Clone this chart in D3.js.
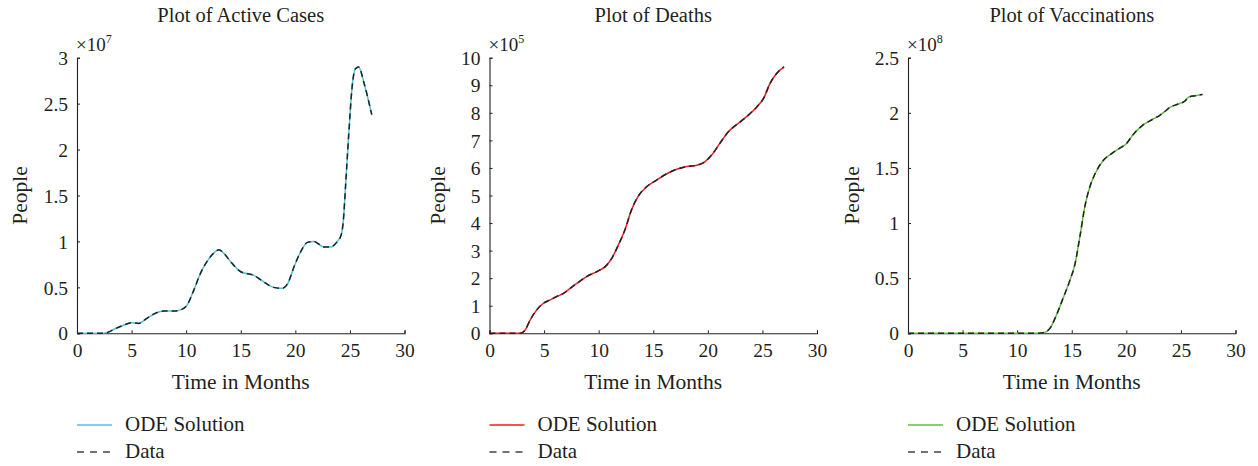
<!DOCTYPE html>
<html>
<head>
<meta charset="utf-8">
<script src="https://cdn.jsdelivr.net/npm/d3@7"></script>
<style>
  html, body { margin: 0; padding: 0; background: #fff; }
  svg text { font-family: "Liberation Serif", "Times New Roman", serif; fill: #231f20; }
</style>
</head>
<body>
<svg id="chart" width="1258" height="466"></svg>
<script>
// Time axis (months) for each panel
const activeMonths = [0, 1, 2.1, 2.8, 3.5, 4.3, 5.0, 5.66, 6.4, 7.2, 7.95, 8.87, 9.6, 10.1, 10.7, 11.3, 11.9, 12.5, 13.0, 13.46, 14.07, 15.0, 16.2, 17.1, 18.0, 18.8, 19.3, 19.9, 20.5, 21.1, 21.7, 22.6, 23.2, 23.85, 24.2, 24.4, 24.6, 24.9, 25.2, 25.5, 25.8, 26.3, 27.0];
// Active cases (×10^7)
const activeODE  = [0, 0, 0, 0.01, 0.05, 0.09, 0.115, 0.109, 0.163, 0.218, 0.243, 0.243, 0.26, 0.31, 0.47, 0.65, 0.78, 0.87, 0.91, 0.87, 0.78, 0.67, 0.63, 0.56, 0.50, 0.49, 0.54, 0.73, 0.89, 0.99, 1.0, 0.94, 0.94, 1.0, 1.07, 1.23, 1.6, 2.18, 2.68, 2.88, 2.9, 2.72, 2.38];
const activeData = [0, 0, 0, 0.01, 0.05, 0.09, 0.116, 0.108, 0.163, 0.22, 0.243, 0.242, 0.26, 0.31, 0.47, 0.65, 0.78, 0.87, 0.91, 0.87, 0.78, 0.67, 0.63, 0.56, 0.50, 0.49, 0.54, 0.73, 0.89, 0.99, 1.0, 0.94, 0.94, 1.0, 1.07, 1.23, 1.6, 2.18, 2.68, 2.88, 2.9, 2.72, 2.38];

const deathMonths = [0, 1, 2, 2.8, 3.27, 3.72, 4.33, 4.94, 5.55, 6.16, 6.78, 7.39, 8.0, 8.9, 9.83, 10.6, 11.2, 11.8, 12.4, 13.0, 13.6, 14.4, 15.3, 16.2, 17.15, 18.07, 19.0, 19.75, 20.35, 21.1, 21.9, 22.6, 23.55, 24.5, 25.1, 25.7, 26.3, 26.98];
// Deaths (×10^5)
const deathODE  = [0, 0, 0, 0, 0.12, 0.48, 0.85, 1.09, 1.21, 1.33, 1.45, 1.63, 1.81, 2.06, 2.24, 2.42, 2.72, 3.2, 3.75, 4.47, 4.96, 5.32, 5.56, 5.78, 5.95, 6.05, 6.1, 6.23, 6.47, 6.89, 7.32, 7.56, 7.86, 8.22, 8.52, 9.07, 9.43, 9.67];
const deathData = [0, 0, 0, 0, 0.12, 0.48, 0.85, 1.09, 1.21, 1.34, 1.45, 1.63, 1.81, 2.06, 2.24, 2.42, 2.72, 3.2, 3.75, 4.47, 4.96, 5.32, 5.56, 5.78, 5.95, 6.05, 6.1, 6.23, 6.47, 6.89, 7.32, 7.56, 7.86, 8.22, 8.52, 9.07, 9.43, 9.67];

const vaccMonths = [0, 5, 10, 11.6, 12.4, 13.0, 13.6, 14.2, 14.83, 15.3, 15.75, 16.2, 16.66, 17.1, 17.9, 18.65, 19.4, 20.0, 20.6, 21.4, 22.2, 23.1, 23.5, 24.0, 24.75, 25.4, 25.66, 26.3, 26.98];
// Vaccinations (×10^8)
const vaccODE  = [0, 0, 0, 0, 0.006, 0.045, 0.166, 0.317, 0.48, 0.63, 0.88, 1.15, 1.33, 1.44, 1.57, 1.63, 1.68, 1.72, 1.80, 1.88, 1.93, 1.98, 2.01, 2.05, 2.08, 2.11, 2.14, 2.155, 2.167];
const vaccData = [0, 0, 0, 0, 0.006, 0.045, 0.166, 0.317, 0.48, 0.63, 0.88, 1.15, 1.33, 1.44, 1.57, 1.63, 1.68, 1.72, 1.80, 1.88, 1.93, 1.98, 2.01, 2.05, 2.08, 2.11, 2.14, 2.155, 2.167];

// Axis ticks
const xTicks = [0, 5, 10, 15, 20, 25, 30];
const activeTicks = [0, 0.5, 1, 1.5, 2, 2.5, 3];
const deathTicks = [0, 1, 2, 3, 4, 5, 6, 7, 8, 9, 10];
const vaccTicks = [0, 0.5, 1, 1.5, 2, 2.5];

const panels = [
  { title: "Plot of Active Cases", exp: "7", left: 77, yMax: 3, yTicks: activeTicks,
    t: activeMonths, ode: activeODE, data: activeData, color: "#4cc3de", labelX: 20 },
  { title: "Plot of Deaths", exp: "5", left: 489.5, yMax: 10, yTicks: deathTicks,
    t: deathMonths, ode: deathODE, data: deathData, color: "#ee1d23", labelX: 438 },
  { title: "Plot of Vaccinations", exp: "8", left: 908, yMax: 2.5, yTicks: vaccTicks,
    t: vaccMonths, ode: vaccODE, data: vaccData, color: "#5cbf3b", labelX: 852 }
];

const svg = d3.select("#chart");
const plotTop = 57.7, plotBottom = 333.3, plotWidth = 327.5;
const axisColor = "#231f20";

panels.forEach(p => {
  const g = svg.append("g");
  const x = d3.scaleLinear().domain([0, 30]).range([p.left, p.left + plotWidth]);
  const y = d3.scaleLinear().domain([0, p.yMax]).range([plotBottom, plotTop]);

  // Axes with inward ticks
  const xAxis = d3.axisBottom(x).tickValues(xTicks).tickSize(-3).tickPadding(6).tickFormat(d3.format("d"));
  const yAxis = d3.axisLeft(y).tickValues(p.yTicks).tickSize(-3).tickPadding(9).tickFormat(d => String(d));

  const gx = g.append("g").attr("transform", `translate(0,${plotBottom})`).call(xAxis);
  const gy = g.append("g").attr("transform", `translate(${p.left},0)`).call(yAxis);
  [gx, gy].forEach(a => {
    a.select(".domain").attr("stroke", axisColor).attr("stroke-width", 1.1);
    a.selectAll(".tick line").attr("stroke", axisColor).attr("stroke-width", 1);
    a.selectAll(".tick text").style("font-family", "'Liberation Serif', serif").style("font-size", "19.5px").attr("fill", axisColor);
  });
  gx.selectAll(".tick text").attr("dy", "0.9em");
  gy.selectAll(".tick text").attr("dy", "0.34em");

  // Line generators
  const line = d3.line().x(d => x(d[0])).y(d => y(d[1])).curve(d3.curveMonotoneX);
  const odePts = p.t.map((t, i) => [t, p.ode[i]]);
  const dataPts = p.t.map((t, i) => [t, p.data[i]]);

  g.append("path").attr("d", line(odePts)).attr("fill", "none")
    .attr("stroke", p.color).attr("stroke-width", 1.5);
  g.append("path").attr("d", line(dataPts)).attr("fill", "none")
    .attr("stroke", "#222").attr("stroke-width", 1.5).attr("stroke-dasharray", "6,4");

  // Title
  const cx = p.left + plotWidth / 2;
  g.append("text").attr("x", cx).attr("y", 22).attr("text-anchor", "middle")
    .style("font-size", "20.5px").text(p.title);

  // Exponent label
  const ex = g.append("text").attr("x", p.left - 1).attr("y", 51).style("font-size", "19px");
  ex.append("tspan").text("×10");
  ex.append("tspan").attr("dy", -8).style("font-size", "12px").text(p.exp);

  // Axis labels
  g.append("text").attr("x", cx).attr("y", 389).attr("text-anchor", "middle")
    .style("font-size", "21.5px").text("Time in Months");
  g.append("text").attr("transform", `translate(${p.labelX + 7},${(plotTop + plotBottom) / 2}) rotate(-90)`)
    .attr("text-anchor", "middle").style("font-size", "21.5px").text("People");

  // Legend
  const lx = p.left;
  g.append("line").attr("x1", lx).attr("x2", lx + 35).attr("y1", 425).attr("y2", 425)
    .attr("stroke", p.color).attr("stroke-width", 1.3);
  g.append("line").attr("x1", lx).attr("x2", lx + 35).attr("y1", 452).attr("y2", 452)
    .attr("stroke", "#444").attr("stroke-width", 1.3).attr("stroke-dasharray", "7,6");
  g.append("text").attr("x", lx + 48).attr("y", 431).style("font-size", "21px").text("ODE Solution");
  g.append("text").attr("x", lx + 48).attr("y", 458).style("font-size", "21px").text("Data");
});
</script>
</body>
</html>
